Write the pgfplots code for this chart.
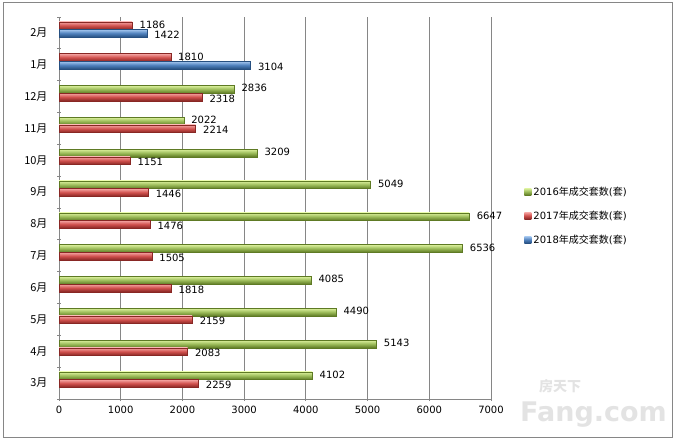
\documentclass[border=0pt]{standalone}
\usepackage{fontspec}
\setmainfont{DejaVu Sans}
\newfontfamily\cjk{Noto Sans CJK SC}
\usepackage{pgfplots}
\pgfplotsset{compat=1.18}
\usepackage{pgfplotstable}
\definecolor{gtop}{HTML}{DDF29E}
\definecolor{gmid}{HTML}{9BBB59}
\definecolor{gbot}{HTML}{5E7A24}
\definecolor{rtop}{HTML}{F6A7A5}
\definecolor{rmid}{HTML}{D0504D}
\definecolor{rbot}{HTML}{882724}
\definecolor{btop}{HTML}{A6C8F0}
\definecolor{bmid}{HTML}{4F81BD}
\definecolor{bbot}{HTML}{264F80}
\definecolor{axgray}{HTML}{868686}
\newcommand\lf{\fontsize{10}{12}\selectfont}
\pgfplotsset{
  gbar/.style={draw=gbot, line width=0.4pt, top color=gtop, bottom color=gbot, middle color=gmid},
  rbar/.style={draw=rbot, line width=0.4pt, top color=rtop, bottom color=rbot, middle color=rmid},
  bbar/.style={draw=bbot, line width=0.4pt, top color=btop, bottom color=bbot, middle color=bmid},
  upper/.style={bar shift=0.23, nodes near coords style={yshift=1pt}},
  lower/.style={bar shift=-0.01, nodes near coords style={yshift=-1.5pt}},
}
\pgfplotstableread{
y x
0 4102
1 5143
2 4490
3 4085
4 6536
5 6647
6 5049
7 3209
8 2022
9 2836
}\green
\pgfplotstableread{
y x
0 2259
1 2083
2 2159
3 1818
4 1505
5 1476
6 1446
7 1151
8 2214
9 2318
}\redlow
\pgfplotstableread{
y x
10 1810
11 1186
}\redtop
\pgfplotstableread{
y x
10 3104
11 1422
}\blue
\begin{document}
\begin{tikzpicture}
\path (0pt,0pt) rectangle (675pt,440pt);
\draw[axgray, line width=1pt] (3pt,3pt) rectangle (672pt,437pt);
\node[text=gray!22, font=\fontsize{27}{27}\selectfont\bfseries, anchor=south east, inner sep=0pt] at (667pt,12pt) {Fang.com};
\node[text=gray!22, font=\cjk\fontsize{14}{14}\selectfont\bfseries] at (560pt,54pt) {房天下};
\begin{axis}[
  at={(59pt,41pt)}, anchor=south west,
  scale only axis, width=432pt, height=382pt,
  xbar, bar width=0.24,
  xmin=0, xmax=7000, ymin=-0.5, ymax=11.5,
  xtick={0,1000,...,7000},
  ytick={0,...,11},
  yticklabels={{\cjk 3月},{\cjk 4月},{\cjk 5月},{\cjk 6月},{\cjk 7月},{\cjk 8月},{\cjk 9月},{\cjk 10月},{\cjk 11月},{\cjk 12月},{\cjk 1月},{\cjk 2月}},
  minor ytick={-0.5,0.5,...,11.5},
  major tick length=4pt, minor tick length=4pt,
  tick align=outside,
  ytick style={draw=none},
  minor y tick style={draw=axgray, line width=0.8pt},
  xtick style={draw=axgray, line width=0.8pt},
  xmajorgrids, grid style={axgray, line width=0.8pt},
  axis x line=bottom, axis y line=left,
  axis line style={-, axgray, line width=0.8pt},
  tick label style={font=\lf},
  yticklabel style={font=\fontsize{11}{12}\selectfont, xshift=-6pt},
  xticklabel style={yshift=-2pt},
  /pgf/number format/1000 sep={},
  /pgf/number format/assume math mode=true,
  point meta=x,
  nodes near coords,
  nodes near coords style={font=\lf, anchor=west, xshift=4pt, text=black},
  legend cell align=left,
  legend style={draw=none, fill=none, at={(1.07,0.48)}, anchor=west, font=\lf, row sep=10pt},
  legend image code/.code={\path[#1, draw=none] (0pt,-3.5pt) rectangle (7pt,3.5pt);},
]
\addlegendimage{gbar}
\addlegendentry{2016{\cjk 年成交套数}({\cjk 套})}
\addlegendimage{rbar}
\addlegendentry{2017{\cjk 年成交套数}({\cjk 套})}
\addlegendimage{bbar}
\addlegendentry{2018{\cjk 年成交套数}({\cjk 套})}
\pgfplotsinvokeforeach{0,...,9}{
  \addplot[forget plot, gbar, upper, restrict y to domain=#1:#1] table[x=x,y=y]{\green};
  \addplot[forget plot, rbar, lower, restrict y to domain=#1:#1] table[x=x,y=y]{\redlow};
}
\pgfplotsinvokeforeach{10,11}{
  \addplot[forget plot, rbar, upper, restrict y to domain=#1:#1] table[x=x,y=y]{\redtop};
  \addplot[forget plot, bbar, lower, restrict y to domain=#1:#1] table[x=x,y=y]{\blue};
}
\end{axis}
\end{tikzpicture}
\end{document}
